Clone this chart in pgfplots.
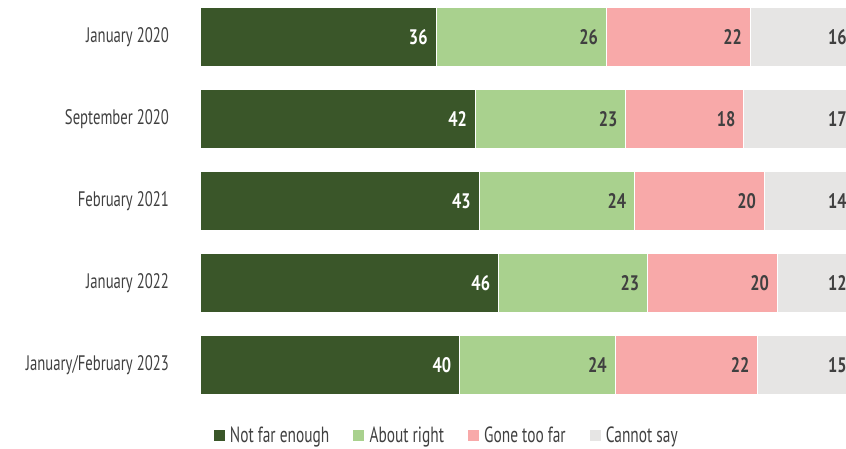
\documentclass[border=0pt]{standalone}
\usepackage{fontspec}
\setmainfont[FakeStretch=0.70]{PT Sans}
\newfontfamily\valfont[FakeStretch=0.78]{PT Sans}
\usepackage{pgfplots}
\usepackage{pgfplotstable}
\pgfplotsset{compat=1.18}
\definecolor{c1}{HTML}{3A5629}
\definecolor{c2}{HTML}{A9D18E}
\definecolor{c3}{HTML}{F8A9A9}
\definecolor{c4}{HTML}{E6E5E4}
\definecolor{txt}{HTML}{404040}
\pgfplotstableread{
y a b c d
0 36 26 22 16
1 42 23 18 17
2 43 24 20 14
3 46 23 20 12
4 40 24 22 15
}\data
\newcommand\tot{(\thisrow{a}+\thisrow{b}+\thisrow{c}+\thisrow{d})}
\begin{document}
\begin{tikzpicture}[x=1pt,y=1pt]
\path[use as bounding box] (0,0) rectangle (846,448);
\begin{axis}[
  at={(200pt,42pt)}, anchor=south west,
  scale only axis, width=646pt, height=410pt,
  clip=false,
  xbar, bar width=59pt, bar shift=0pt,
  xmin=0, xmax=98.63, ymin=-0.5, ymax=4.5, y dir=reverse,
  ytick={0,1,2,3,4},
  yticklabels={January 2020,September 2020,February 2021,January 2022,January/February 2023},
  xtick=\empty,
  axis line style={draw=none}, major tick length=0pt,
  yticklabel style={font=\fontsize{21}{21}\selectfont, text=txt, inner sep=0pt, xshift=-31pt},
  point meta=explicit symbolic,
  nodes near coords,
  every node near coord/.append style={anchor=east, inner sep=0pt, xshift=-8pt, font=\valfont\bfseries\fontsize{21}{21}\selectfont, text=txt},
  legend columns=4,
  legend style={draw=none, fill=none, at={(0.382,-0.071)}, anchor=center,
    font=\fontsize{22}{22}\selectfont, text=txt,
    /tikz/every even column/.append style={column sep=22pt}},
  legend image code/.code={\fill[#1,draw=none] (0pt,-6pt) rectangle (11pt,5pt); \path (14pt,0pt);},
]
\addlegendimage{fill=c1}
\addlegendentry{Not far enough}
\addlegendimage{fill=c2}
\addlegendentry{About right}
\addlegendimage{fill=c3}
\addlegendentry{Gone too far}
\addlegendimage{fill=c4}
\addlegendentry{Cannot say}
\addplot[forget plot, fill=c4, draw=white, line width=0.5pt] table[y=y, x expr=100*(\thisrow{a}+\thisrow{b}+\thisrow{c}+\thisrow{d})/\tot, meta=d] {\data};
\addplot[forget plot, fill=c3, draw=white, line width=0.5pt] table[y=y, x expr=100*(\thisrow{a}+\thisrow{b}+\thisrow{c})/\tot, meta=c] {\data};
\addplot[forget plot, fill=c2, draw=white, line width=0.5pt] table[y=y, x expr=100*(\thisrow{a}+\thisrow{b})/\tot, meta=b] {\data};
\addplot[forget plot, fill=c1, draw=white, line width=0.5pt, every node near coord/.append style={text=white}] table[y=y, x expr=100*\thisrow{a}/\tot, meta=a] {\data};
\end{axis}
\end{tikzpicture}
\end{document}
